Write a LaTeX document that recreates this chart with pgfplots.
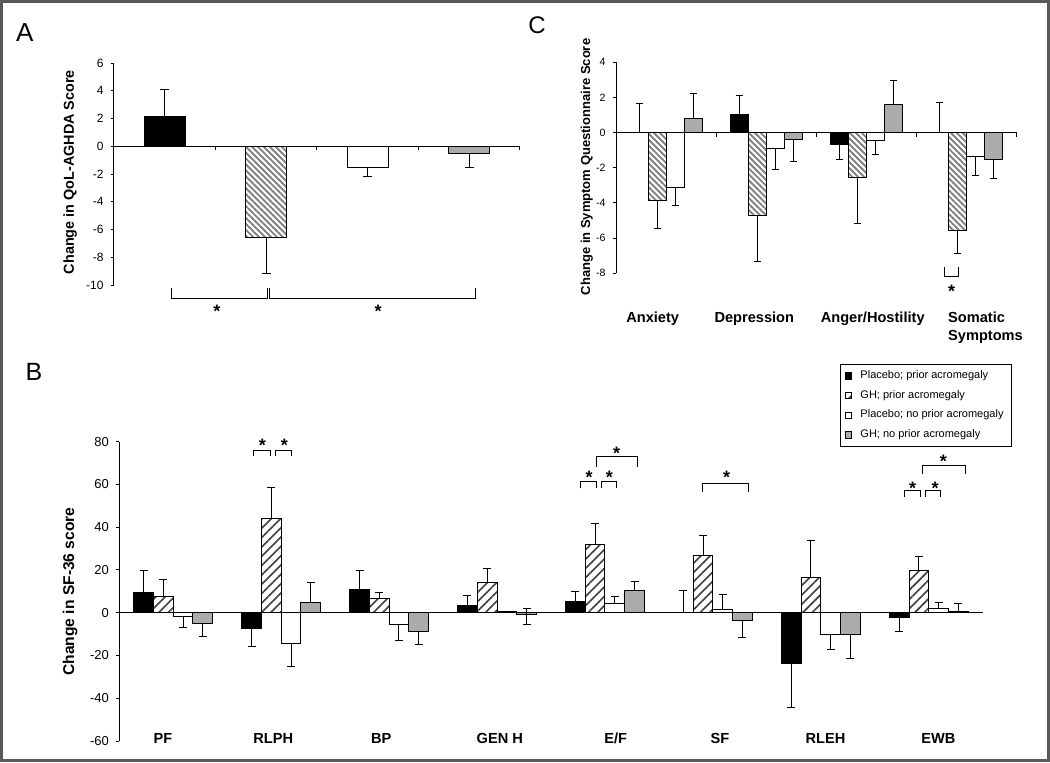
\documentclass[border=0pt]{standalone}
\usepackage{fontspec}
\setmainfont{Liberation Sans}
\usepackage{pgfplots}
\pgfplotsset{compat=1.18}
\usetikzlibrary{patterns.meta}
\definecolor{bargray}{gray}{0.67}
\definecolor{hatchlight}{gray}{0.5}
\definecolor{hatchdark}{gray}{0.25}
\definecolor{framegray}{gray}{0.35}
\newcommand\fs[1]{\fontsize{#1}{#1}\selectfont}
\pgfplotsset{
  panel/.style={
    scale only axis, anchor=south west, clip=false,
    axis y line=left, axis x line=none, axis line style={-, line width=0.5pt, black},
    ytick align=outside, major tick length=1.7pt, tick style={line width=0.5pt, black},
    /pgf/number format/assume math mode=true,
    ylabel style={anchor=center},
  },
  sqlegend/.style={legend image code/.code={\draw[##1,line width=0.4pt] (0pt,-1.6pt) rectangle (3.2pt,1.6pt);}},
  blackbar/.style={ybar, draw=black, line width=0.5pt, fill=black},
  whitebar/.style={ybar, draw=black, line width=0.5pt, fill=white},
  graybar/.style={ybar, draw=black, line width=0.5pt, fill=bargray},
  hatchA/.style={ybar, draw=black, line width=0.5pt, fill=white,
     postaction={pattern={Lines[angle=-45,distance=2.1pt,line width=0.95pt]}, pattern color=hatchlight}},
  hatchB/.style={ybar, draw=black, line width=0.5pt, fill=white,
     postaction={pattern={Lines[angle=45,distance=3.3pt,line width=0.8pt]}, pattern color=hatchdark}},
  eb/.style={error bars/y dir=plus, error bars/y explicit,
     error bars/error bar style={line width=0.5pt, black},
     error bars/error mark options={rotate=90, line width=0.5pt, black, mark size=#1}},
}
\begin{document}
\begin{tikzpicture}
\path[use as bounding box] (0pt,0pt) rectangle (525pt,-381pt);

% ---------------- Panel A ----------------
\begin{axis}[panel, at={(57pt,-142.5pt)}, width=203pt, height=111pt,
  xmin=0, xmax=4, ymin=-10, ymax=6, ytick={-10,-8,-6,-4,-2,0,2,4,6},
  yticklabel style={font=\fs{6}}, bar width=0.404,
  ylabel={Change in QoL-AGHDA  Score},
  ylabel style={at={(axis description cs:-0.108,0.509)}, font=\bfseries\fs{7.2}}]
\addplot[blackbar, bar shift=0, eb=2.25pt] coordinates {(0.5,2.15) +- (0,1.95)};
\addplot[hatchA, bar shift=0, eb=2.25pt] coordinates {(1.5,-6.6) +- (0,-2.55)};
\addplot[whitebar, bar shift=0, eb=2.25pt] coordinates {(2.5,-1.5) +- (0,-0.7)};
\addplot[graybar, bar shift=0, eb=2.25pt] coordinates {(3.5,-0.5) +- (0,-1.05)};
\draw[line width=0.5pt] (axis cs:0,0) -- (axis cs:4,0);
\pgfplotsinvokeforeach{1,2,3,4}{\draw[line width=0.5pt] (axis cs:#1,0) -- ++(0pt,-2pt);}
\end{axis}

% ---------------- Panel C ----------------
\begin{axis}[panel, at={(308pt,-136.65pt)}, width=200.35pt, height=105.5pt,
  xmin=0, xmax=4, ymin=-8, ymax=4, ytick={-8,-6,-4,-2,0,2,4},
  yticklabel style={font=\fs{5.3}}, bar width=0.18,
  ylabel={Change in Symptom Questionnaire Score},
  ylabel style={at={(axis description cs:-0.0731,0.504)}, font=\bfseries\fs{6.5}}]
\addplot[blackbar, bar shift=0, eb=1.75pt] coordinates {
  (0.23,0) +- (0,1.65) (1.23,1.05) +- (0,1.05) (2.23,-0.65) +- (0,-0.85) (3.23,0) +- (0,1.7)};
\addplot[hatchA, bar shift=0, eb=1.75pt] coordinates {
  (0.41,-3.85) +- (0,-1.6) (1.41,-4.7) +- (0,-2.6) (2.41,-2.55) +- (0,-2.6) (3.41,-5.55) +- (0,-1.35)};
\addplot[whitebar, bar shift=0, eb=1.75pt] coordinates {
  (0.59,-3.1) +- (0,-1.05) (1.59,-0.9) +- (0,-1.2) (2.59,-0.45) +- (0,-0.8) (3.59,-1.35) +- (0,-1.1)};
\addplot[graybar, bar shift=0, eb=1.75pt] coordinates {
  (0.77,0.78) +- (0,1.42) (1.77,-0.4) +- (0,-1.25) (2.77,1.6) +- (0,1.35) (3.77,-1.5) +- (0,-1.1)};
\draw[line width=0.5pt] (axis cs:0,0) -- (axis cs:4,0);
\pgfplotsinvokeforeach{1,2,3,4}{\draw[line width=0.5pt] (axis cs:#1,0) -- ++(0pt,-2pt);}
\end{axis}

% ---------------- Panel B ----------------
\begin{axis}[panel, at={(59.65pt,-370.5pt)}, width=431.7pt, height=149.65pt,
  xmin=0, xmax=8, ymin=-60, ymax=80, ytick={-60,-40,-20,0,20,40,60,80},
  yticklabel style={font=\fs{6.5}}, bar width=0.1826,
  ylabel={Change in SF-36 score},
  ylabel style={at={(axis description cs:-0.0571,0.4995)}, font=\bfseries\fs{7.8}},
  legend style={at={(axis description cs:0.8347,1.2596)}, anchor=north west,
    draw=black, line width=0.5pt, font=\fs{5.5}, row sep=0.35pt, inner xsep=2.2pt, inner ysep=1pt,
    /tikz/every odd column/.append style={column sep=2.2pt}},
  legend cell align=left]
\addplot[blackbar, bar shift=0, sqlegend, eb=2pt] coordinates {
  (0.2261,9.5) +- (0,10.3) (1.2261,-7.2) +- (0,-8.5) (2.2261,11.0) +- (0,8.8) (3.2261,3.3) +- (0,4.6)
  (4.2261,5.3) +- (0,4.7) (5.2261,0) +- (0,10.6) (6.2261,-23.9) +- (0,-20.2) (7.2261,-2.2) +- (0,-6.7)};
\addlegendentry{Placebo; prior acromegaly}
\addplot[hatchB, bar shift=0, sqlegend, eb=2pt] coordinates {
  (0.4087,7.8) +- (0,7.9) (1.4087,44.0) +- (0,14.5) (2.4087,6.7) +- (0,2.8) (3.4087,14.0) +- (0,6.9)
  (4.4087,32.1) +- (0,9.8) (5.4087,26.8) +- (0,9.5) (6.4087,16.4) +- (0,17.3) (7.4087,19.6) +- (0,6.7)};
\addlegendentry{GH; prior acromegaly}
\addplot[whitebar, bar shift=0, sqlegend, eb=2pt] coordinates {
  (0.5913,-1.9) +- (0,-5.1) (1.5913,-14.5) +- (0,-10.8) (2.5913,-5.5) +- (0,-7.3) (3.5913,0.4) +- (0,0)
  (4.5913,4.1) +- (0,3.7) (5.5913,1.7) +- (0,7.0) (6.5913,-10.0) +- (0,-7.1) (7.5913,2.2) +- (0,2.5)};
\addlegendentry{Placebo; no prior acromegaly}
\addplot[graybar, bar shift=0, sqlegend, eb=2pt] coordinates {
  (0.7739,-5.0) +- (0,-6.2) (1.7739,4.8) +- (0,9.5) (2.7739,-8.7) +- (0,-6.3) (3.7739,-1.0) +- (0,-4.6)
  (4.7739,10.4) +- (0,4.3) (5.7739,-3.7) +- (0,-7.7) (6.7739,-10.4) +- (0,-10.8) (7.7739,0.6) +- (0,3.6)};
\addlegendentry{GH; no prior acromegaly}
\addplot[graybar, bar shift=0, forget plot, eb=2pt] coordinates {(3.7739,-1.0) +- (0,2.8)};
\draw[line width=0.5pt] (axis cs:0,0) -- (axis cs:8,0);
\end{axis}

% ---------------- annotations (pixel coordinates) ----------------
\begin{scope}[x=0.5pt, y=-0.5pt, line width=0.5pt]
\draw[framegray, line width=1.5pt] (1.5,1.5) rectangle (1048.5,760.5);
\node[font=\fs{13}] at (24.7,32.3) {A};
\node[font=\fs{12.5}] at (34,372) {B};
\node[font=\fs{12}] at (537,25) {C};
% A brackets
\draw (171,288) -- (171,298) -- (267,298) -- (267,288);
\draw (269,288) -- (269,298) -- (475,298) -- (475,288);
\node[font=\bfseries\fs{9}, anchor=base] at (217,317.4) {*};
\node[font=\bfseries\fs{9}, anchor=base] at (378,317.4) {*};
% C bracket and labels
\draw (944.3,266.7) -- (944.3,276) -- (958.3,276) -- (958.3,266.7);
\node[font=\bfseries\fs{9}, anchor=base] at (951.7,297.1) {*};
\begin{scope}[every node/.style={font=\bfseries\fs{7.3}, anchor=base, inner sep=0pt}]
\node at (652.7,322.7) {Anxiety};
\node at (754.3,322.7) {Depression};
\node at (872.7,322.7) {Anger/Hostility};
\node[anchor=base west] at (947.7,322.7) {Somatic};
\node[anchor=base west] at (947.7,340) {Symptoms};
% B labels
\node at (163,743.3) {PF};
\node at (273.3,743.3) {RLPH};
\node at (381.3,743.3) {BP};
\node at (499.8,743.3) {GEN H};
\node at (615.8,743.3) {E/F};
\node at (720,743.3) {SF};
\node at (825.5,743.3) {RLEH};
\node at (938.3,743.3) {EWB};
\end{scope}
% B brackets
\draw (253.3,456) -- (253.3,450.7) -- (270,450.7) -- (270,456);
\draw (275.3,456) -- (275.3,450.7) -- (291.3,450.7) -- (291.3,456);
\draw (580.7,488.3) -- (580.7,481.7) -- (596,481.7) -- (596,488.3);
\draw (601.7,488.3) -- (601.7,481.7) -- (616,481.7) -- (616,488.3);
\draw (596,466.7) -- (596,456.7) -- (637.3,456.7) -- (637.3,466.7);
\draw (702.7,491.7) -- (702.7,483.3) -- (748.7,483.3) -- (748.7,491.7);
\draw (904,496.7) -- (904,490) -- (920,490) -- (920,496.7);
\draw (925.7,496.7) -- (925.7,490) -- (940,490) -- (940,496.7);
\draw (922.3,474) -- (922.3,465) -- (965,465) -- (965,474);
\begin{scope}[every node/.style={font=\bfseries\fs{9}, anchor=base}]
\node at (262.3,451.1) {*};
\node at (284.3,451.1) {*};
\node at (589,483.7) {*};
\node at (609.3,483.7) {*};
\node at (616.7,459.7) {*};
\node at (726.7,483.7) {*};
\node at (912.7,494.4) {*};
\node at (935,494.4) {*};
\node at (943.3,467.7) {*};
\end{scope}
\end{scope}
\end{tikzpicture}
\end{document}
